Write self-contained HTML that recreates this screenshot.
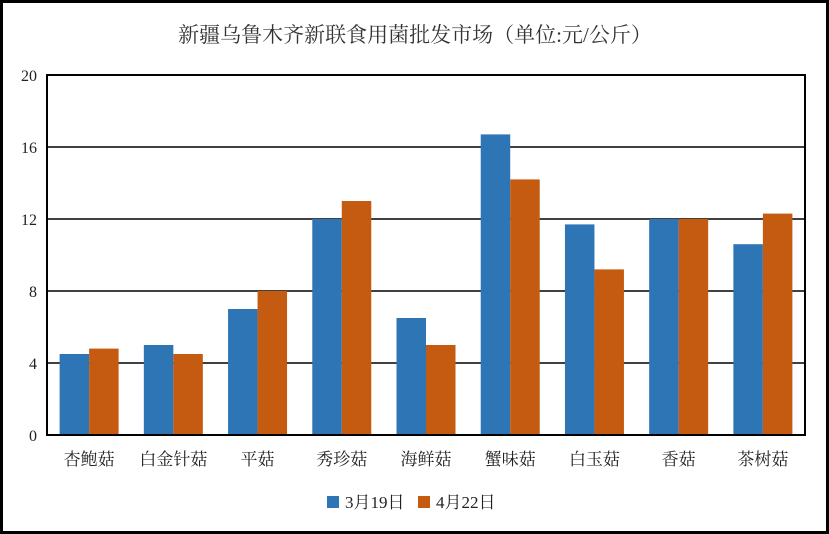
<!DOCTYPE html>
<html><head><meta charset="utf-8"><style>
body{margin:0;background:#fff}
svg{display:block;font-family:"Liberation Serif","Noto Serif CJK SC",serif}
</style></head><body>
<svg width="829" height="534" viewBox="0 0 829 534">
<rect x="1.5" y="1.5" width="826" height="531" fill="#fff" stroke="#000" stroke-width="3"/>
<text x="415" y="42" text-anchor="middle" font-size="21" fill="#333">新疆乌鲁木齐新联食用菌批发市场（单位:元/公斤）</text>
<g id="grid"></g>
<g id="bars"></g>
<rect x="47" y="75" width="758" height="360" fill="none" stroke="#000" stroke-width="2"/>
<g id="labels"></g>
<g>
<rect x="327" y="496" width="12" height="12" fill="#2e75b6"/>
<text x="345" y="508" font-size="17" fill="#222">3月19日</text>
<rect x="418" y="496" width="12" height="12" fill="#c55a11"/>
<text x="436" y="508" font-size="17" fill="#222">4月22日</text>
</g>
</svg>
<script>
const categories=["杏鲍菇","白金针菇","平菇","秀珍菇","海鲜菇","蟹味菇","白玉菇","香菇","茶树菇"];
const seriesMar19=[4.5,5.0,7.0,12.0,6.5,16.7,11.7,12.0,10.6];
const seriesApr22=[4.8,4.5,8.0,13.0,5.0,14.2,9.2,12.0,12.3];
const yTicks=[0,4,8,12,16,20];
const NS="http://www.w3.org/2000/svg";
const x0=47,x1=805,yTop=75,yBot=435,yMax=20;
const y=v=>yBot-(v/yMax)*(yBot-yTop);
const band=(x1-x0)/categories.length;
const bw=29.5;
function mk(t,a,p){const e=document.createElementNS(NS,t);for(const k in a)e.setAttribute(k,a[k]);p.appendChild(e);return e;}
const grid=document.getElementById('grid'),bars=document.getElementById('bars'),labels=document.getElementById('labels');
yTicks.forEach(t=>{
 const l=mk('line',{x1:x0,x2:x1,y1:y(t),y2:y(t),stroke:'#000','stroke-width':1.5},grid);
 
 
 const tx=mk('text',{x:37,y:y(t)+6,'text-anchor':'end','font-size':16,fill:'#222'},labels);
 tx.textContent=t;
 
 
});
categories.forEach((c,i)=>{
 const cx=x0+band*(i+0.5);
 const b1=mk('rect',{x:cx-bw,y:y(seriesMar19[i]),width:bw,height:yBot-y(seriesMar19[i]),fill:'#2e75b6'},bars);
 
 
 const b2=mk('rect',{x:cx,y:y(seriesApr22[i]),width:bw,height:yBot-y(seriesApr22[i]),fill:'#c55a11'},bars);
 
 
 const tx=mk('text',{x:cx,y:465,'text-anchor':'middle','font-size':17,fill:'#222'},labels);
 tx.textContent=c;
 
 
});
</script>
</body></html>
